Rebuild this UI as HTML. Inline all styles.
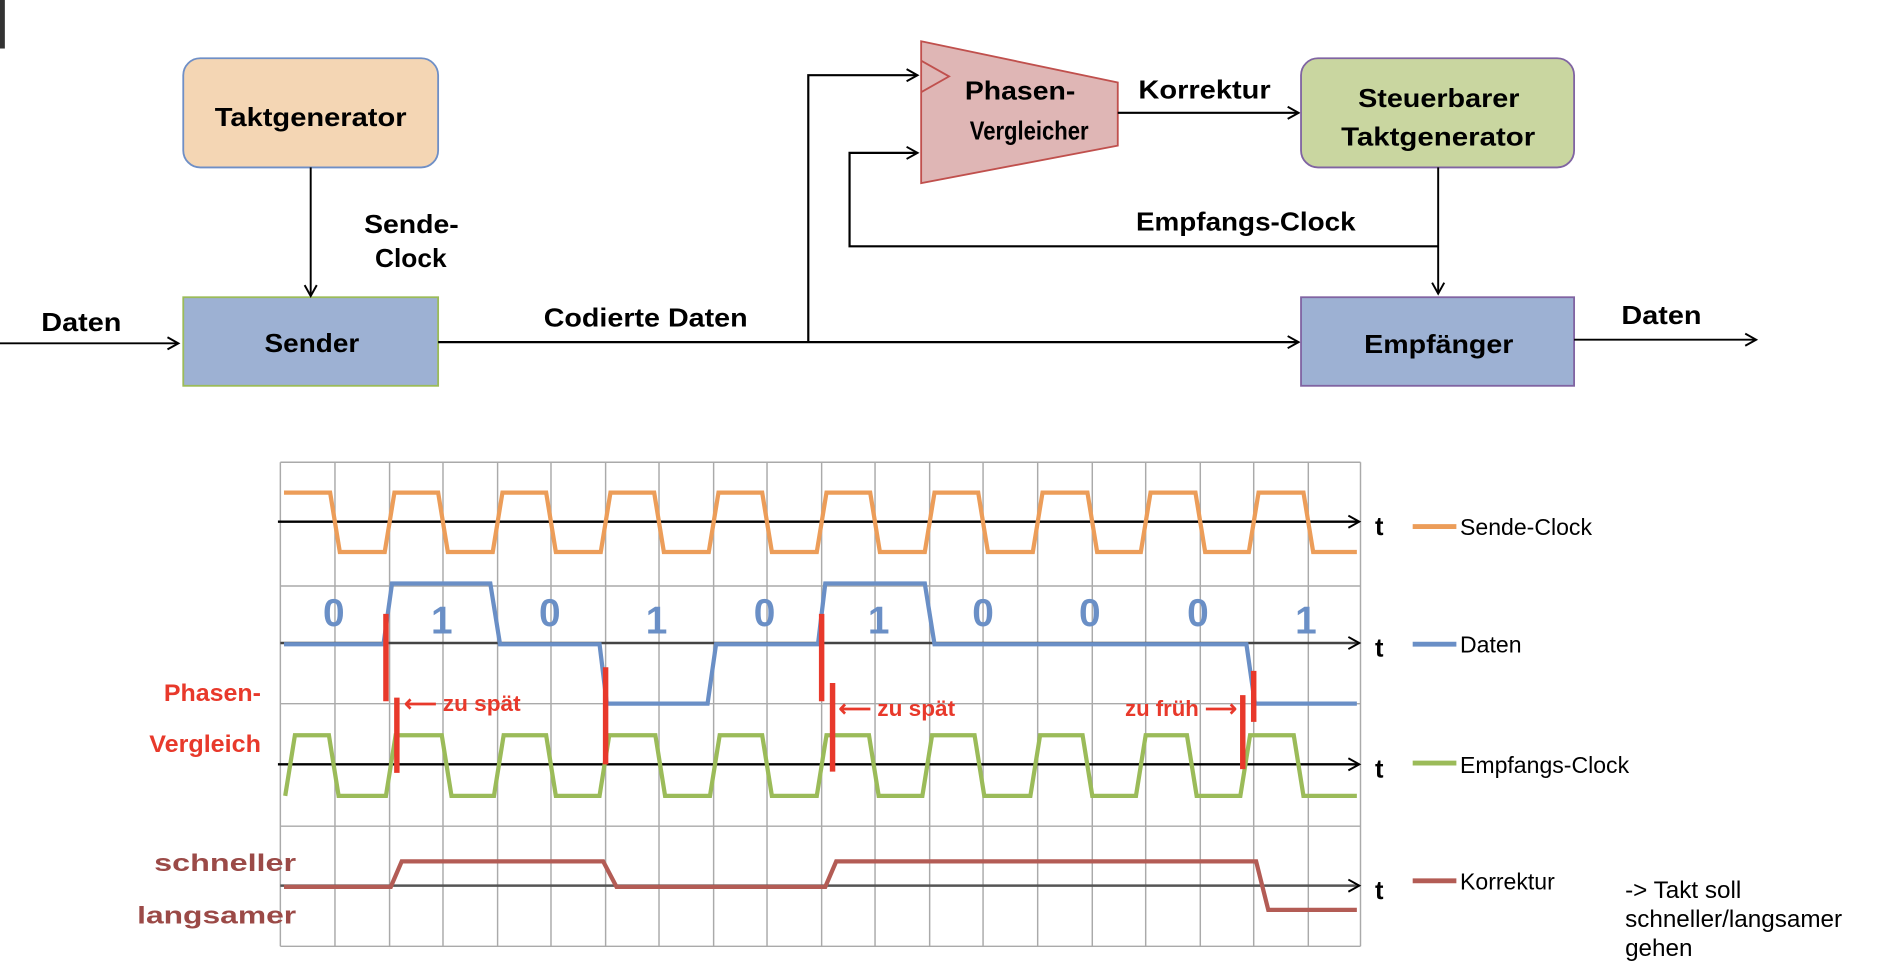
<!DOCTYPE html>
<html><head><meta charset="utf-8"><style>
html,body{margin:0;padding:0;background:#fff;overflow:hidden}
svg{display:block}
text{font-family:"Liberation Sans",sans-serif}
.b{font-weight:bold;font-size:21px;fill:#000}
</style></head><body>
<svg width="1903" height="973" viewBox="0 0 1568 802" preserveAspectRatio="none" xmlns="http://www.w3.org/2000/svg">
<defs>
<marker id="ar" markerWidth="12" markerHeight="12" refX="10" refY="6" orient="auto" markerUnits="userSpaceOnUse">
<path d="M1,1 L10,6 L1,11" fill="none" stroke="#000" stroke-width="1.6"/></marker>
</defs>
<rect x="0" y="0" width="4" height="40" fill="#333"/>
<rect x="151" y="48" width="210" height="90" rx="14" fill="#f4d6b4" stroke="#6f8fc6" stroke-width="1.5"/>
<text class="b" x="177" y="104" textLength="158" lengthAdjust="spacingAndGlyphs">Taktgenerator</text>
<rect x="151" y="245" width="210" height="73" fill="#9db1d3" stroke="#9bbb59" stroke-width="1.5"/>
<text class="b" x="218" y="290" textLength="78" lengthAdjust="spacingAndGlyphs">Sender</text>
<line x1="256" y1="138" x2="256" y2="244" stroke="#000" stroke-width="1.6" marker-end="url(#ar)"/>
<text class="b" x="300" y="192" textLength="78" lengthAdjust="spacingAndGlyphs">Sende-</text>
<text class="b" x="309" y="220" textLength="59" lengthAdjust="spacingAndGlyphs">Clock</text>
<line x1="0" y1="283" x2="147" y2="283" stroke="#000" stroke-width="1.6" marker-end="url(#ar)"/>
<text class="b" x="34" y="273" textLength="66" lengthAdjust="spacingAndGlyphs">Daten</text>
<line x1="361" y1="282" x2="1070" y2="282" stroke="#000" stroke-width="1.8" marker-end="url(#ar)"/>
<text class="b" x="448" y="269" textLength="168" lengthAdjust="spacingAndGlyphs">Codierte Daten</text>
<polyline points="666,282 666,62 756,62" fill="none" stroke="#000" stroke-width="1.8" marker-end="url(#ar)"/>
<polygon points="759,34 921,68 921,120 759,151" fill="#dfb6b5" stroke="#c0504d" stroke-width="1.5"/>
<polyline points="759,50 782,63 759,76" fill="none" stroke="#c0504d" stroke-width="1.5"/>
<text class="b" x="795" y="82" textLength="91" lengthAdjust="spacingAndGlyphs">Phasen-</text>
<text class="b" x="799" y="115" textLength="98" lengthAdjust="spacingAndGlyphs">Vergleicher</text>
<polyline points="1185,203 700,203 700,126 756,126" fill="none" stroke="#000" stroke-width="1.8" marker-end="url(#ar)"/>
<line x1="921" y1="93" x2="1070" y2="93" stroke="#000" stroke-width="1.8" marker-end="url(#ar)"/>
<text class="b" x="938" y="81" textLength="109" lengthAdjust="spacingAndGlyphs">Korrektur</text>
<rect x="1072" y="48" width="225" height="90" rx="14" fill="#c9d6a0" stroke="#8064a2" stroke-width="1.5"/>
<text class="b" x="1119" y="88" textLength="133" lengthAdjust="spacingAndGlyphs">Steuerbarer</text>
<text class="b" x="1105" y="120" textLength="160" lengthAdjust="spacingAndGlyphs">Taktgenerator</text>
<line x1="1185" y1="138" x2="1185" y2="242" stroke="#000" stroke-width="1.6" marker-end="url(#ar)"/>
<text class="b" x="936" y="190" textLength="181" lengthAdjust="spacingAndGlyphs">Empfangs-Clock</text>
<rect x="1072" y="245" width="225" height="73" fill="#9db1d3" stroke="#8064a2" stroke-width="1.5"/>
<text class="b" x="1124" y="291" textLength="123" lengthAdjust="spacingAndGlyphs">Empfänger</text>
<line x1="1297" y1="280" x2="1447" y2="280" stroke="#000" stroke-width="1.6" marker-end="url(#ar)"/>
<text class="b" x="1336" y="267" textLength="66" lengthAdjust="spacingAndGlyphs">Daten</text>
<g stroke="#aaa" stroke-width="1.2">
<line x1="231" y1="381" x2="231" y2="780"/><line x1="276" y1="381" x2="276" y2="780"/><line x1="321" y1="381" x2="321" y2="780"/><line x1="365" y1="381" x2="365" y2="780"/><line x1="410" y1="381" x2="410" y2="780"/><line x1="454" y1="381" x2="454" y2="780"/><line x1="499" y1="381" x2="499" y2="780"/><line x1="543" y1="381" x2="543" y2="780"/><line x1="588" y1="381" x2="588" y2="780"/><line x1="632" y1="381" x2="632" y2="780"/><line x1="677" y1="381" x2="677" y2="780"/><line x1="721" y1="381" x2="721" y2="780"/><line x1="766" y1="381" x2="766" y2="780"/><line x1="810" y1="381" x2="810" y2="780"/><line x1="855" y1="381" x2="855" y2="780"/><line x1="900" y1="381" x2="900" y2="780"/><line x1="944" y1="381" x2="944" y2="780"/><line x1="989" y1="381" x2="989" y2="780"/><line x1="1033" y1="381" x2="1033" y2="780"/><line x1="1078" y1="381" x2="1078" y2="780"/><line x1="1121" y1="381" x2="1121" y2="780"/>
<line x1="231" y1="381" x2="1121" y2="381"/><line x1="231" y1="483" x2="1121" y2="483"/><line x1="231" y1="580" x2="1121" y2="580"/><line x1="231" y1="681" x2="1121" y2="681"/><line x1="231" y1="780" x2="1121" y2="780"/>
</g>
<g stroke="#000" stroke-width="2" fill="none">
<line x1="229" y1="430" x2="1120" y2="430" marker-end="url(#ar)"/>
<line x1="231" y1="530" x2="1120" y2="530" stroke="#444" marker-end="url(#ar)"/>
<line x1="229" y1="630" x2="1120" y2="630" marker-end="url(#ar)"/>
<line x1="231" y1="730" x2="1120" y2="730" stroke="#555" marker-end="url(#ar)"/>
</g>
<g font-weight="bold" font-size="21"><text x="1133" y="441">t</text><text x="1133" y="541">t</text><text x="1133" y="641">t</text><text x="1133" y="741">t</text></g>
<polyline fill="none" stroke="#ec9d59" stroke-width="3.5" points="234,406 272,406 280,455 317,455 325,406 361,406 369,455 406,455 414,406 450,406 458,455 495,455 503,406 539,406 547,455 584,455 592,406 628,406 636,455 673,455 681,406 717,406 725,455 762,455 770,406 806,406 814,455 851,455 859,406 896,406 904,455 940,455 948,406 985,406 993,455 1029,455 1037,406 1074,406 1082,455 1118,455"/>
<polyline fill="none" stroke="#6a8fc6" stroke-width="3.5" points="234,531 316,531 323,481 404,481 412,531 494,531 500,580 583,580 590,531 674,531 680,481 762,481 770,531 1027,531 1034,580 1118,580"/>
<g fill="#6a8fc6" font-weight="bold" font-size="32" text-anchor="middle">
<text x="275" y="516">0</text><text x="364" y="522">1</text><text x="453" y="516">0</text><text x="541" y="522">1</text><text x="630" y="516">0</text><text x="724" y="522">1</text><text x="810" y="516">0</text><text x="898" y="516">0</text><text x="987" y="516">0</text><text x="1076" y="522">1</text></g>
<polyline fill="none" stroke="#9bbb59" stroke-width="3.5" points="235,656 243,606 271,606 279,656 318,656 326,606 364,606 372,656 407,656 415,606 450,606 458,656 494,656 502,606 540,606 548,656 585,656 593,606 628,606 636,656 673,656 681,606 716,606 724,656 760,656 768,606 803,606 811,656 849,656 857,606 892,606 900,656 936,656 944,606 978,606 986,656 1022,656 1030,606 1066,606 1074,656 1118,656"/>
<polyline fill="none" stroke="#b35c55" stroke-width="3.5" points="234,731 322,731 331,710 497,710 508,731 680,731 689,710 1035,710 1045,750 1118,750"/>
<g stroke="#e8392b" stroke-width="4.5">
<line x1="318" y1="506" x2="318" y2="578"/><line x1="327" y1="575" x2="327" y2="637"/>
<line x1="499" y1="550" x2="499" y2="630"/>
<line x1="677" y1="506" x2="677" y2="578"/><line x1="686" y1="563" x2="686" y2="636"/>
<line x1="1024" y1="573" x2="1024" y2="634"/><line x1="1033" y1="553" x2="1033" y2="595"/>
</g>
<g fill="#e8392b" font-weight="bold" font-size="18">
<text x="333" y="586" textLength="96" lengthAdjust="spacingAndGlyphs">⟵ zu spät</text><text x="691" y="590" textLength="96" lengthAdjust="spacingAndGlyphs">⟵ zu spät</text><text x="927" y="590" textLength="92" lengthAdjust="spacingAndGlyphs">zu früh ⟶</text>
<text x="135" y="578" font-size="20" textLength="80" lengthAdjust="spacingAndGlyphs">Phasen-</text>
<text x="123" y="620" font-size="20" textLength="92" lengthAdjust="spacingAndGlyphs">Vergleich</text></g>
<g fill="#9b4a47" font-weight="bold" font-size="20">
<text x="127" y="718" textLength="117" lengthAdjust="spacingAndGlyphs">schneller</text><text x="113" y="761" textLength="131" lengthAdjust="spacingAndGlyphs">langsamer</text></g>
<g stroke-width="4"><line x1="1164" y1="434" x2="1200" y2="434" stroke="#ec9d59"/><line x1="1164" y1="531" x2="1200" y2="531" stroke="#6a8fc6"/><line x1="1164" y1="629" x2="1200" y2="629" stroke="#9bbb59"/><line x1="1164" y1="726" x2="1200" y2="726" stroke="#b35c55"/></g>
<g font-size="19" fill="#000"><text x="1203" y="441">Sende-Clock</text><text x="1203" y="538">Daten</text><text x="1203" y="637">Empfangs-Clock</text><text x="1203" y="733">Korrektur</text>
<text x="1339" y="740" font-size="20">-&gt; Takt soll</text><text x="1339" y="764" font-size="20">schneller/langsamer</text><text x="1339" y="788" font-size="20">gehen</text></g>
</svg>
</body></html>
